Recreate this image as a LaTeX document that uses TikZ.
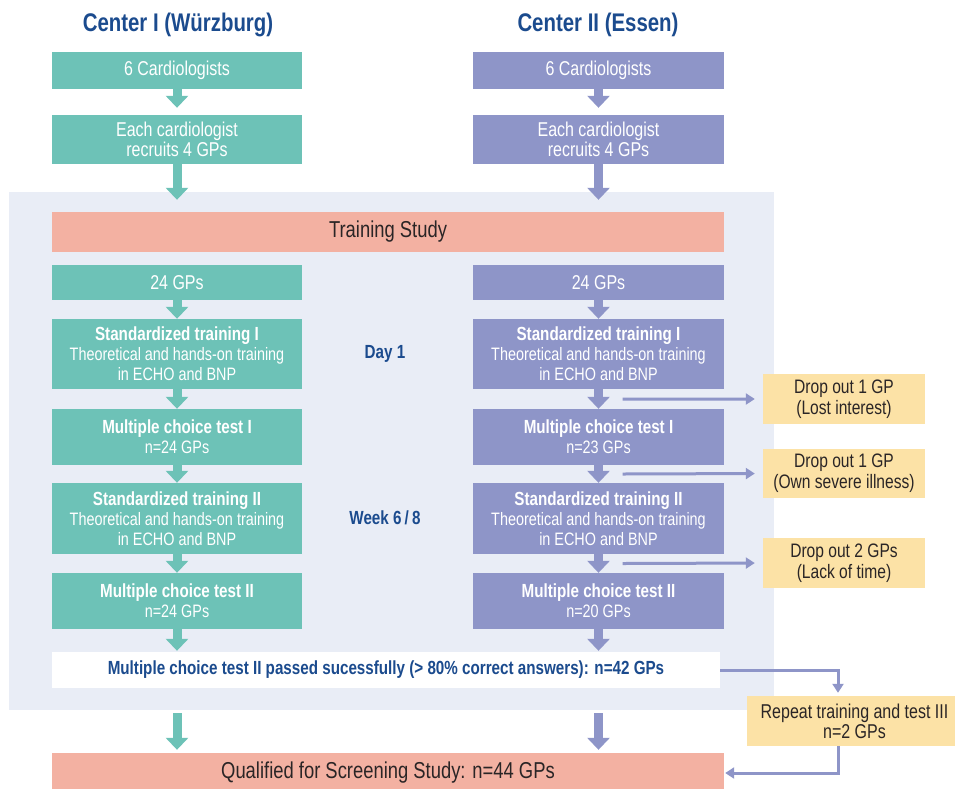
\documentclass[tikz,border=0pt]{standalone}
\usepackage{fontspec}
\setmainfont[FakeStretch=0.8]{Liberation Sans}
\usetikzlibrary{arrows.meta,calc}
\definecolor{tealc}{HTML}{6DC2B7}
\definecolor{lavc}{HTML}{8E95C8}
\definecolor{salmc}{HTML}{F3B1A2}
\definecolor{yelc}{HTML}{FCE2A6}
\definecolor{panelc}{HTML}{E9EDF6}
\definecolor{navyc}{HTML}{1B4B8E}
\definecolor{darkc}{HTML}{2A2526}
\newcommand\subfnt{\fontsize{18}{20}\selectfont}
\begin{document}
\begin{tikzpicture}[x=1pt,y=-1pt,
  box/.style={rectangle, inner sep=0pt, align=center, text=white, font=\fontsize{19}{20}\selectfont},
  bigtxt/.style={font=\fontsize{20}{20}\selectfont},
  tealbox/.style={box, fill=tealc, minimum width=250pt},
  lavbox/.style={box, fill=lavc, minimum width=251pt},
  wide/.style={box, fill=salmc, text=darkc, minimum width=672pt, minimum height=40pt, font=\fontsize{23}{25}\selectfont},
  dropbox/.style={box, fill=yelc, text=darkc, minimum width=162pt, font=\fontsize{19.5}{21}\selectfont},
  title/.style={font=\fontsize{25.5}{28}\selectfont\bfseries, text=navyc, inner sep=0pt},
  phase/.style={font=\fontsize{19}{21}\selectfont\bfseries, text=navyc, inner sep=0pt},
  barrow/.style={line width=9pt, -{Triangle[width=22pt,length=12pt]}},
  tarrow/.style={draw=lavc, line width=3pt, -{Triangle[width=11pt,length=9pt]}}]
\useasboundingbox (0,0) rectangle (955,788);
% background panel
\node[fill=panelc, minimum width=765pt, minimum height=518pt, inner sep=0pt] (panel) at (391.5,451) {};
% titles
\node[title] (t1) at (178,25) {Center I (Würzburg)};
\node[title] (t2) at (598,25) {Center II (Essen)};
% left column
\node[tealbox, bigtxt, minimum height=37pt] (L1) at (177,70.5) {6 Cardiologists};
\node[tealbox, bigtxt, minimum height=49pt] (L2) at (177,139.5) {Each cardiologist\\recruits 4 GPs};
\node[tealbox, bigtxt, minimum height=35pt] (L3) at (177,282.5) {24 GPs};
\node[tealbox, minimum height=70pt] (L4) at (177,354) {\textbf{Standardized training I}\\{\subfnt Theoretical and hands-on training}\\{\subfnt in ECHO and BNP}};
\node[tealbox, minimum height=56pt] (L5) at (177,437) {\textbf{Multiple choice test I}\\{\subfnt n=24 GPs}};
\node[tealbox, minimum height=71pt] (L6) at (177,518.5) {\textbf{Standardized training II}\\{\subfnt Theoretical and hands-on training}\\{\subfnt in ECHO and BNP}};
\node[tealbox, minimum height=56pt] (L7) at (177,601) {\textbf{Multiple choice test II}\\{\subfnt n=24 GPs}};
% right column
\node[lavbox, bigtxt, minimum height=37pt] (R1) at (598.5,70.5) {6 Cardiologists};
\node[lavbox, bigtxt, minimum height=49pt] (R2) at (598.5,139.5) {Each cardiologist\\recruits 4 GPs};
\node[lavbox, bigtxt, minimum height=35pt] (R3) at (598.5,282.5) {24 GPs};
\node[lavbox, minimum height=70pt] (R4) at (598.5,354) {\textbf{Standardized training I}\\{\subfnt Theoretical and hands-on training}\\{\subfnt in ECHO and BNP}};
\node[lavbox, minimum height=56pt] (R5) at (598.5,437) {\textbf{Multiple choice test I}\\{\subfnt n=23 GPs}};
\node[lavbox, minimum height=71pt] (R6) at (598.5,518.5) {\textbf{Standardized training II}\\{\subfnt Theoretical and hands-on training}\\{\subfnt in ECHO and BNP}};
\node[lavbox, minimum height=56pt] (R7) at (598.5,601) {\textbf{Multiple choice test II}\\{\subfnt n=20 GPs}};
% wide boxes
\node[wide] (TS) at (388,232) {Training Study};
\node[box, fill=white, text=navyc, minimum width=668pt, minimum height=36pt, font=\fontsize{19}{21}\selectfont\bfseries] (W) at (386,670) {Multiple choice test II passed sucessfully (> 80\% correct answers): n=42 GPs};
\node[wide] (Q) at (388,773) {Qualified for Screening Study: n=44 GPs};
% phase labels
\node[phase] (d1) at (385,354) {Day 1};
\node[phase] (w68) at (385,518) {Week 6\,/\,8};
% drop out boxes
\node[dropbox, minimum height=50pt] (D1) at (844,399) {Drop out 1 GP\\(Lost interest)};
\node[dropbox, minimum height=49pt] (D2) at (844,473.5) {Drop out 1 GP\\(Own severe illness)};
\node[dropbox, minimum height=50pt] (D3) at (844,563) {Drop out 2 GPs\\(Lack of time)};
\node[dropbox, bigtxt, minimum width=215pt, minimum height=50pt] (RP) at (854.5,721) {Repeat training and test III\\n=2 GPs};
% block arrows left
\begin{scope}[tealc]
\draw[barrow, shorten >=7pt] (L1) -- (L2);
\draw[barrow, shorten >=12pt] (L2.south) -- (L2.south |- TS.north);
\draw[barrow] (L3) -- (L4);
\draw[barrow] (L4) -- (L5);
\draw[barrow] (L5) -- (L6);
\draw[barrow] (L6) -- (L7);
\draw[barrow, shorten >=1pt] (L7.south) -- (L7.south |- W.north);
\draw[barrow, shorten <=3pt, shorten >=3pt] (L7.south |- panel.south) -- (L7.south |- Q.north);
\end{scope}
\begin{scope}[lavc]
\draw[barrow, shorten >=7pt] (R1) -- (R2);
\draw[barrow, shorten >=12pt] (R2.south) -- (R2.south |- TS.north);
\draw[barrow] (R3) -- (R4);
\draw[barrow] (R4) -- (R5);
\draw[barrow] (R5) -- (R6);
\draw[barrow] (R6) -- (R7);
\draw[barrow, shorten >=1pt] (R7.south) -- (R7.south |- W.north);
\draw[barrow, shorten <=3pt, shorten >=3pt] (R7.south |- panel.south) -- (R7.south |- Q.north);
\end{scope}
% drop out connectors
\draw[tarrow, shorten >=8pt] ($(R4.south)!0.5!(R5.north)+(24,0)$) -- (D1.west);
\draw[tarrow, shorten >=8pt] ($(R5.south)!0.5!(R6.north)+(24,0)$) -- (D2.west);
\draw[tarrow, shorten >=8pt] ($(R6.south)!0.5!(R7.north)+(24,0)$) -- (D3.west);
% repeat loop
\draw[tarrow, shorten >=3pt] (W.east) -| ([xshift=-16.5pt]RP.north);
\draw[tarrow, shorten >=1pt] ([xshift=-16.5pt]RP.south) |- (Q.east);
\end{tikzpicture}
\end{document}
